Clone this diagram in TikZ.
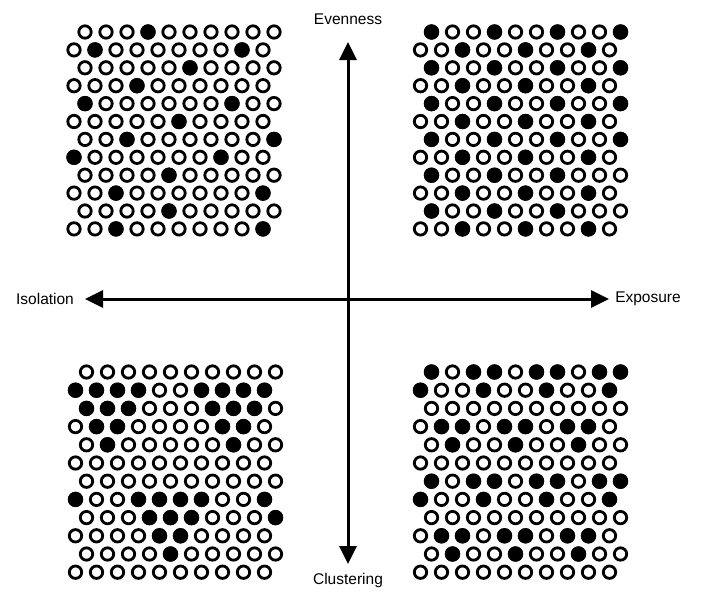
\documentclass[tikz,border=0pt]{standalone}
\usepackage{fontspec}
\setmainfont{Liberation Sans}
\usetikzlibrary{arrows.meta}
\newcommand\dotgrid[5]{% #1 x odd rows, #2 x even rows, #3 y top, #4 row step, #5 filled lists
  \foreach \fills [count=\i from 0] in {#5} {
    \pgfmathsetmacro\yy{#3+\i*#4}
    \pgfmathsetmacro\xs{ifthenelse(mod(\i,2)==0,#1,#2)}
    \foreach \c in {1,...,10} {
      \draw[opendot] (\xs+21*\c-21,\yy) circle[radius=6.2];
    }
    \foreach \c in \fills {
      \ifnum\c>0 \fill[black] (\xs+21*\c-21,\yy) circle[radius=7.7];\fi
    }
  }%
}
\begin{document}
\begin{tikzpicture}[x=1pt,y=-1pt,
  opendot/.style={draw=black,fill=white,line width=2.8pt},
  axisarrow/.style={line width=3pt,{Triangle[length=18pt,width=17pt]}-{Triangle[length=18pt,width=17pt]}},
  lbl/.style={font=\fontsize{15.5}{18}\selectfont,inner sep=0pt}]
\useasboundingbox (0,0) rectangle (706,608);
% grids
\dotgrid{85}{74}{32}{17.9}{{4},{2,9},{6},{4},{1,8},{6},{3,10},{1,8},{5},{3,10},{5},{3,10}}
\dotgrid{431.5}{420.5}{32}{17.9}{{1,4,7,10},{3,6,9},{1,4,7,10},{3,6,9},{1,4,7,10},{3,6,9},{1,4,7,10},{3,6,9},{1,4,7},{3,6,9},{1,4,7},{3,6,9}}
\dotgrid{86.5}{75.5}{372}{18.2}{{0},{1,2,3,4,7,8,9,10},{1,2,3,7,8,9},{2,3,8,9},{2,8},{0},{0},{1,4,5,6,7,10},{4,5,6,10},{5,6},{5},{0}}
\dotgrid{431.5}{420.5}{372}{18.2}{{1,3,4,6,7,9,10},{1,4,7,10},{0},{2,3,5,6,8,9},{2,5,8},{0},{1,3,4,6,7,9,10},{1,4,7,10},{0},{2,3,5,6,8,9},{2,5,8},{0}}
% axes
\node[lbl] (even) at (348,19) {Evenness};
\node[lbl] (clus) at (348,580) {Clustering};
\node[lbl] (iso) at (45,299) {Isolation};
\node[lbl] (expo) at (648,299) {Exposure};
\coordinate (top) at (348,42);
\coordinate (bot) at (348,564);
\coordinate (lft) at (85,299);
\coordinate (rgt) at (609,299);
\draw[axisarrow] (bot) -- (top);
\draw[axisarrow] (lft) -- (rgt);
\end{tikzpicture}
\end{document}
